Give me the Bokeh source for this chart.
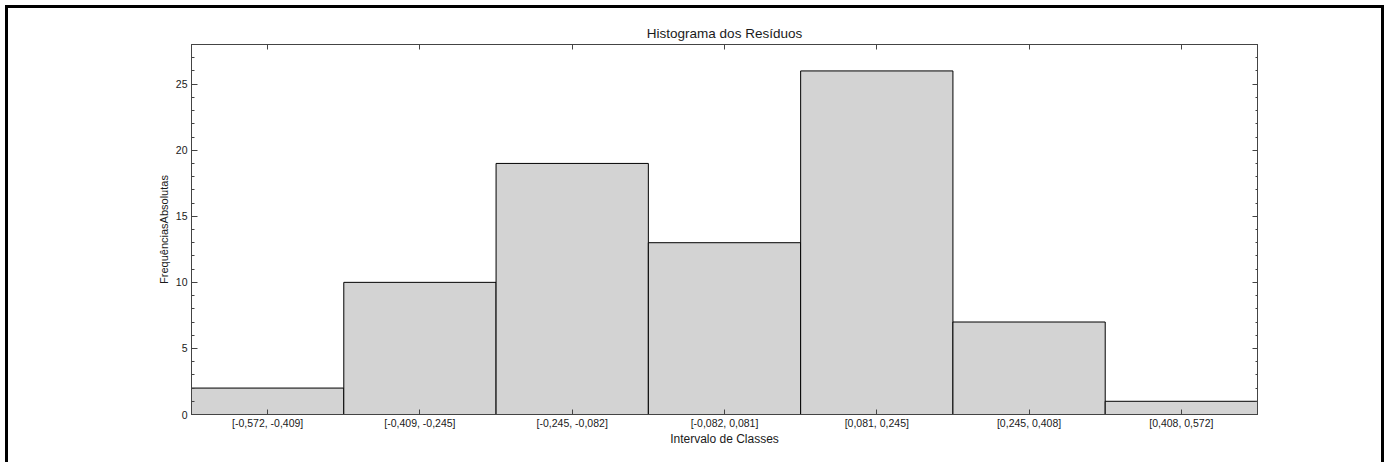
from bokeh.plotting import figure
from bokeh.models import (FactorRange, Range1d, LinearAxis, CategoricalAxis,
                          SingleIntervalTicker, CustomJSTickFormatter)
from bokeh.embed import file_html
from bokeh.resources import INLINE

categories = ["[-0,572, -0,409]", "[-0,409, -0,245]", "[-0,245, -0,082]",
              "[-0,082, 0,081]", "[0,081, 0,245]", "[0,245, 0,408]", "[0,408, 0,572]"]
counts = [2, 10, 19, 13, 26, 7, 1]

FONT = "Liberation Sans"
AXIS_COLOR = "#444444"
TEXT_COLOR = "#1a1a1a"

p = figure(x_range=FactorRange(factors=categories, range_padding=0),
           y_range=Range1d(0, 28),
           frame_width=1066, frame_height=370,
           min_border_left=183, min_border_right=124,
           min_border_top=36, min_border_bottom=48,
           output_backend="svg", toolbar_location=None,
           title="Histograma dos Resíduos")

p.styles = {"border-left": "3px solid black", "border-top": "3px solid black",
            "border-right": "3px solid black",
            "margin-left": "5px", "margin-top": "5px"}

p.vbar(x=categories, top=counts, width=1.0, bottom=0,
       fill_color="#d3d3d3", line_color="black", line_width=1)

p.xgrid.visible = False
p.ygrid.visible = False
p.outline_line_color = AXIS_COLOR

p.title.align = "center"
p.title.text_font = FONT
p.title.text_font_size = "13.5px"
p.title.text_font_style = "normal"
p.title.text_color = TEXT_COLOR
p.title.standoff = 8

# bottom axis
xa = p.xaxis[0]
xa.axis_label = "Intervalo de Classes"
xa.axis_label_text_font = FONT
xa.axis_label_text_font_size = "12px"
xa.axis_label_text_font_style = "normal"
xa.axis_label_text_color = TEXT_COLOR
xa.axis_label_standoff = 0
xa.major_label_text_font = FONT
xa.major_label_text_font_size = "10.5px"
xa.major_label_text_color = TEXT_COLOR
xa.major_label_standoff = 2
xa.major_tick_in = 5
xa.major_tick_out = 0
xa.axis_line_color = AXIS_COLOR
xa.major_tick_line_color = AXIS_COLOR

# left axis
ya = p.yaxis[0]
ya.ticker = SingleIntervalTicker(interval=5, num_minor_ticks=5)
ya.axis_label = "FrequênciasAbsolutas"
ya.axis_label_text_font = FONT
ya.axis_label_text_font_size = "11px"
ya.axis_label_text_font_style = "normal"
ya.axis_label_text_color = TEXT_COLOR
ya.axis_label_standoff = 3
ya.major_label_text_font = FONT
ya.major_label_text_font_size = "10.5px"
ya.major_label_text_color = TEXT_COLOR
ya.major_label_standoff = 4
ya.major_tick_in = 6
ya.major_tick_out = 0
ya.minor_tick_in = 3
ya.minor_tick_out = 0
ya.axis_line_color = AXIS_COLOR
ya.major_tick_line_color = AXIS_COLOR
ya.minor_tick_line_color = AXIS_COLOR

# top axis (ticks only)
ta = CategoricalAxis(major_tick_in=5, major_tick_out=0,
                     formatter=CustomJSTickFormatter(code="return ''"),
                     major_label_standoff=0,
                     axis_line_color=AXIS_COLOR, major_tick_line_color=AXIS_COLOR)
p.add_layout(ta, "above")

# right axis (ticks only)
ra = LinearAxis(ticker=SingleIntervalTicker(interval=5, num_minor_ticks=5),
                formatter=CustomJSTickFormatter(code="return ''"),
                major_tick_in=5, major_tick_out=0, minor_tick_in=2, minor_tick_out=0,
                major_label_standoff=0,
                axis_line_color=AXIS_COLOR, major_tick_line_color=AXIS_COLOR,
                minor_tick_line_color=AXIS_COLOR)
p.add_layout(ra, "right")

open("out.html", "w").write(file_html(p, INLINE))
